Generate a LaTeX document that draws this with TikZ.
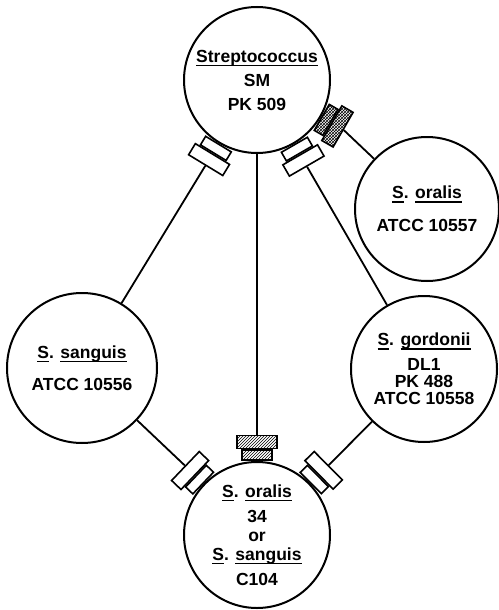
\documentclass[tikz,border=0pt]{standalone}
\usepackage{fontspec}
\setsansfont{Liberation Sans}
\usetikzlibrary{patterns}
\newcommand{\und}[1]{\sbox0{#1}\rlap{\rule[-4.2pt]{\wd0}{1.5pt}}\usebox0}
\tikzset{
    cell/.style={circle, draw, line width=2pt, minimum size=146pt, inner sep=0pt,
                 align=center, font=\sffamily\bfseries\fontsize{17.5}{17}\selectfont},
    pad/.style={rectangle, draw, line width=1.6pt, minimum width=30pt, minimum height=10pt,
                inner sep=0pt, anchor=south},
    widepad/.style={pad, minimum width=40pt, minimum height=13pt},
    plain/.style={fill=white},
    hatched/.style={pattern=north east lines},
    checked/.style={pattern=crosshatch},
    link/.style={line width=1.8pt}
}
\begin{document}
\begin{tikzpicture}[x=1pt, y=-1pt]
    \useasboundingbox (0,0) rectangle (498,610);

    % Cells
    \node[cell] (strep) at (257,80) {\und{Streptococcus}\\[7pt]SM\\[7pt]PK 509};
    \node[cell, minimum size=144pt] (oralisA) at (427,209) {\und{S}. \und{oralis}\\[16pt]ATCC 10557};
    \node[cell, minimum size=150pt] (sanguis) at (82,368) {\und{S}. \und{sanguis}\\[15pt]ATCC 10556};
    \node[cell] (gordonii) at (424,369) {\und{S}. \und{gordonii}\\[8pt]DL1\\PK 488\\ATCC 10558};
    \node[cell] (oralisB) at (257,535) {\und{S}. \und{oralis}\\[8pt]34\\[2pt]or\\[2pt]\und{S}. \und{sanguis}\\[8pt]C104};

    % Pads on Streptococcus
    \node[pad, plain, rotate=-211.3] (sl1) at (strep.-121.3) {};
    \node[widepad, plain, rotate=-211.3] (sl2) at (sl1.north) {};
    \node[pad, plain, rotate=-150] (sr1) at (strep.-60) {};
    \node[widepad, plain, rotate=-150] (sr2) at (sr1.north) {};
    \node[pad, checked, rotate=-120] (sx1) at (strep.-30) {};
    \node[widepad, checked, rotate=-120] (sx2) at (sx1.north) {};

    % Pads on S. oralis 34
    \node[pad, hatched] (oh1) at (oralisB.90) {};
    \node[widepad, hatched] (oh2) at (oh1.north) {};
    \node[pad, plain, rotate=46.3] (ol1) at (oralisB.136.3) {};
    \node[widepad, plain, rotate=46.3] (ol2) at (ol1.north) {};
    \node[pad, plain, rotate=-45.2] (or1) at (oralisB.44.8) {};
    \node[widepad, plain, rotate=-45.2] (or2) at (or1.north) {};

    % Links
    \draw[link] (sl2.north) -- (sanguis);
    \draw[link] (sr2.north) -- (gordonii);
    \draw[link] (sx2.north) -- (oralisA);
    \draw[link] (strep) -- (oh2.north);
    \draw[link] (ol2.north) -- (sanguis);
    \draw[link] (or2.north) -- (gordonii);
\end{tikzpicture}
\end{document}
